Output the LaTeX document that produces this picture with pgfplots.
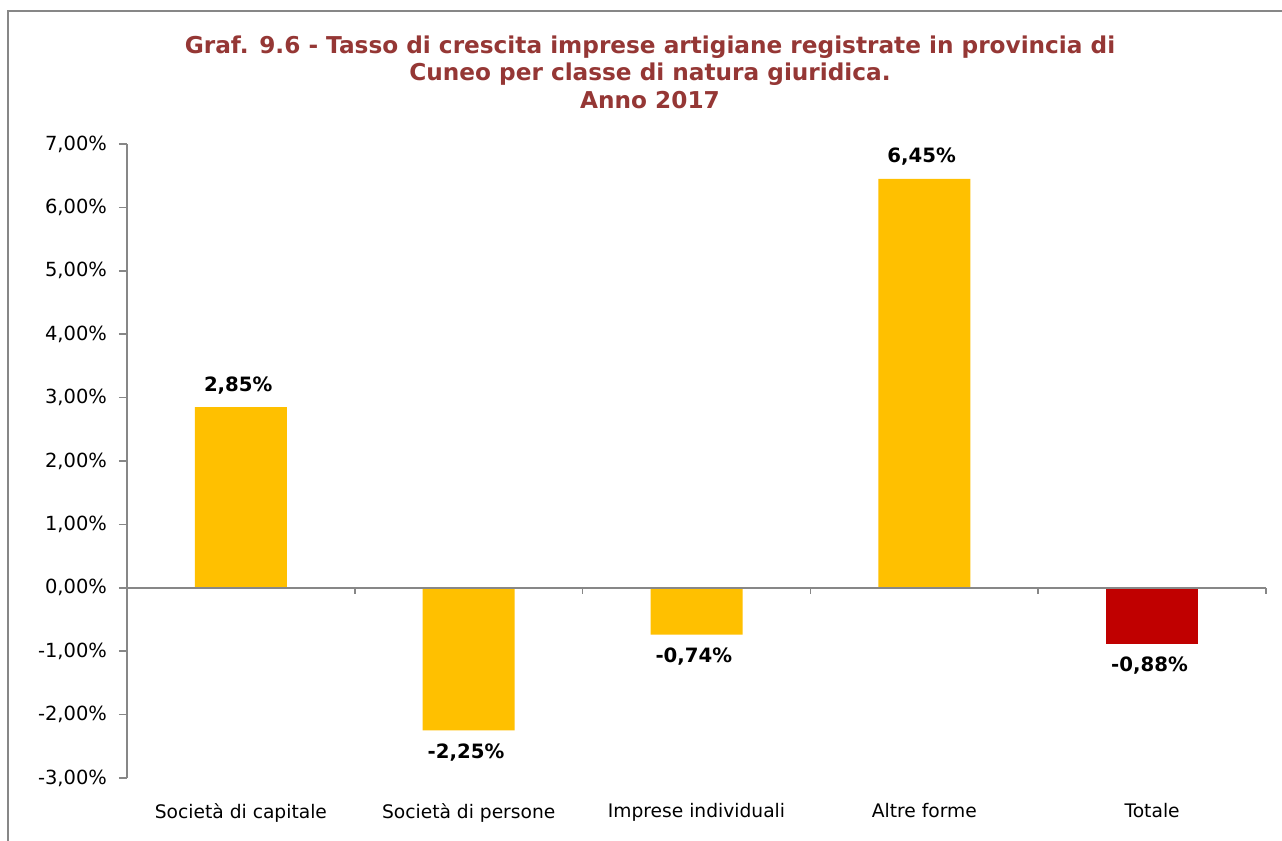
\documentclass[border=0pt]{standalone}
\usepackage{pgfplots}
\pgfplotsset{compat=1.18}
\usepackage{fontspec}
\setmainfont{DejaVu Sans}
\definecolor{bary}{HTML}{FFC000}
\definecolor{barr}{HTML}{C00000}
\definecolor{titr}{HTML}{953735}
\definecolor{axg}{HTML}{878787}
\begin{document}
\begin{tikzpicture}[x=0.75pt,y=0.75pt]
\useasboundingbox (0,0) rectangle (1282,840);
\fill[white] (0,0) rectangle (1282,840);
\draw[axg, line width=1.5pt] (8,-20) rectangle (1300,829);
\node[align=center, text=titr, font=\fontsize{17.4}{20.6}\selectfont\bfseries] at (650,768)
  {Graf. 9.6 - Tasso di crescita imprese artigiane registrate in provincia di\\Cuneo per classe di natura giuridica.\\Anno 2017};
\begin{axis}[
  at={(95.25pt,522pt)}, anchor=north west,
  scale only axis, width=854.25pt, height=475.5pt,
  xmin=-0.5, xmax=4.5, ymin=-3, ymax=7,
  axis y line*=left, axis x line*=bottom,
  x axis line style={draw=none},
  y axis line style={axg, line width=1.2pt},
  xtick={0,1,2,3,4},
  xticklabels={Società di capitale, Società di persone, Imprese individuali, Altre forme, Totale},
  xtick style={draw=none},
  ytick={-3,-2,...,7},
  ytick style={axg, line width=1.2pt},
  tick align=outside, major tick length=6pt,
  xticklabel style={font=\fontsize{14}{16}\selectfont, yshift=-9.5pt},
  yticklabel style={font=\fontsize{14.6}{16}\selectfont, xshift=-5.5pt},
  /pgf/number format/assume math mode=true,
  /pgf/number format/.cd, use comma, fixed, fixed zerofill, precision=2,
  /pgfplots/.cd,
  yticklabel={\pgfmathprintnumber{\tick}\%},
  ybar, bar width=69pt,
  nodes near coords={\pgfmathprintnumber{\pgfplotspointmeta}\%},
  every node near coord/.append style={font=\fontsize{14.8}{16}\selectfont\bfseries, text=black, inner ysep=9.6pt, xshift=-2pt},
  clip=false,
]
\addplot[fill=bary, draw=none, bar shift=0pt] coordinates {(0,2.85) (1,-2.25) (2,-0.74) (3,6.45)};
\addplot[fill=barr, draw=none, bar shift=0pt] coordinates {(4,-0.88)};
\draw[axg, line width=1.5pt] (axis cs:-0.5,0) -- (axis cs:4.5,0);
\pgfplotsinvokeforeach{0.5,1.5,2.5,3.5,4.5}{\draw[axg, line width=1.2pt] (axis cs:#1,0) -- ([yshift=-4.5pt]axis cs:#1,0);}
\end{axis}
\end{tikzpicture}
\end{document}
